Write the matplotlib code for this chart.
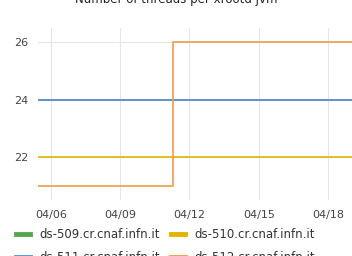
import matplotlib
matplotlib.use("Agg")
import matplotlib.pyplot as plt
import matplotlib.dates as mdates
import pandas as pd

title = "Number of threads per xrootd jvm"
series_names = ["ds-509.cr.cnaf.infn.it", "ds-510.cr.cnaf.infn.it",
                "ds-511.cr.cnaf.infn.it", "ds-512.cr.cnaf.infn.it"]
colors = ["#56A64B", "#E0B400", "#5B8FE0", "#F2994A"]
times = pd.to_datetime(["2021-04-05 10:30", "2021-04-11 07:20", "2021-04-19 01:00"])
vals_509 = [24, 24, 24]
vals_510 = [22, 22, 22]
vals_511 = [24, 24, 24]
vals_512 = [21, 26, 26]
all_vals = [vals_509, vals_510, vals_511, vals_512]
tick_dates = pd.to_datetime(["2021-04-06", "2021-04-09", "2021-04-12", "2021-04-15", "2021-04-18"])
yticks = [22, 24, 26]

fig = plt.figure(figsize=(3.52, 2.56), dpi=100)
ax = fig.add_axes([0.108, 0.219, 0.892, 0.671])
for name, c, v in zip(series_names, colors, all_vals):
    ax.step(times, v, where="post", color=c, lw=1.2, label=name)
ax.set_xlim(times[0], times[-1])
ax.set_ylim(20.5, 26.5)
ax.set_xticks(tick_dates)
ax.xaxis.set_major_formatter(mdates.DateFormatter("%m/%d"))
ax.set_yticks(yticks)
ax.grid(True, color="#E6E6E6", lw=0.8)
ax.tick_params(length=0, labelsize=8, colors="#444444", pad=7)
for s in ax.spines.values():
    s.set_visible(False)
fig.text(0.5, 1.0, title, fontsize=8.5, color="#222222", ha="center", va="center")

handles, labels = ax.get_legend_handles_labels()
order = [0, 2, 1, 3]
leg = fig.legend([handles[i] for i in order], [labels[i] for i in order],
                 loc="upper left", bbox_to_anchor=(0.045, 0.11),
                 ncol=2, frameon=False, fontsize=8.5, handlelength=1.2,
                 handletextpad=0.8, columnspacing=0.9, labelspacing=0.85,
                 borderaxespad=0, borderpad=0)
for h in leg.legend_handles:
    h.set_linewidth(3.5)
for t in leg.get_texts():
    t.set_color("#333333")
fig.savefig("out.png", dpi=100)
